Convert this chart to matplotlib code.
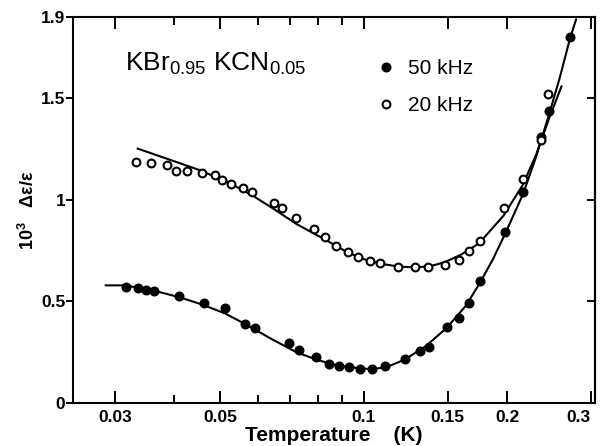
import matplotlib
matplotlib.use("Agg")
import matplotlib.pyplot as plt
from matplotlib.ticker import FixedLocator, NullFormatter

plt.rcParams['font.family'] = ['Liberation Sans', 'DejaVu Sans']
plt.rcParams['mathtext.fontset'] = 'custom'
plt.rcParams['mathtext.rm'] = 'Liberation Sans'

# 50 kHz data (filled circles)
t_50 = [0.0316, 0.0336, 0.0348, 0.0362, 0.0410, 0.0461, 0.0512, 0.0564, 0.0590,
        0.0695, 0.0730, 0.0792, 0.0844, 0.0885, 0.0930, 0.0980, 0.1041, 0.1110,
        0.1218, 0.1311, 0.1368, 0.1494, 0.1582, 0.1666, 0.1755, 0.1982, 0.2162,
        0.2358, 0.2455, 0.2718]
v_50 = [0.573, 0.564, 0.558, 0.553, 0.526, 0.490, 0.470, 0.391, 0.368,
        0.295, 0.259, 0.224, 0.191, 0.183, 0.175, 0.168, 0.167, 0.183,
        0.218, 0.257, 0.276, 0.375, 0.419, 0.490, 0.600, 0.840, 1.038,
        1.310, 1.436, 1.800]

# 20 kHz data (open circles)
t_20 = [0.0333, 0.0358, 0.0386, 0.0404, 0.0426, 0.0458, 0.0486, 0.0504, 0.0527,
        0.0558, 0.0582, 0.0647, 0.0674, 0.0721, 0.0785, 0.0830, 0.0876, 0.0925,
        0.0974, 0.1030, 0.1082, 0.1181, 0.1284, 0.1362, 0.1479, 0.1582, 0.1661,
        0.1751, 0.1966, 0.2155, 0.2355, 0.2438]
v_20 = [1.186, 1.181, 1.170, 1.140, 1.140, 1.134, 1.120, 1.096, 1.079,
        1.060, 1.038, 0.986, 0.962, 0.910, 0.856, 0.815, 0.775, 0.741,
        0.721, 0.699, 0.689, 0.668, 0.667, 0.667, 0.679, 0.704, 0.749,
        0.797, 0.959, 1.104, 1.294, 1.520]

# fitted curves
fit_t_50 = [0.0287, 0.0315, 0.0362, 0.0411, 0.0461, 0.0512, 0.0564, 0.0640,
            0.0722, 0.0792, 0.0860, 0.0930, 0.1040, 0.1120, 0.1218, 0.1350,
            0.1494, 0.1640, 0.1755, 0.1870, 0.1985, 0.2162, 0.2300, 0.2450,
            0.2580, 0.2716, 0.2793]
fit_v_50 = [0.579, 0.579, 0.553, 0.520, 0.482, 0.440, 0.388, 0.315,
            0.250, 0.215, 0.190, 0.176, 0.166, 0.178, 0.213, 0.280,
            0.370, 0.480, 0.592, 0.710, 0.837, 1.030, 1.210, 1.420,
            1.600, 1.800, 1.888]

fit_t_20 = [0.0335, 0.0404, 0.0452, 0.0520, 0.0584, 0.0647, 0.0722, 0.0831,
            0.0925, 0.1000, 0.1081, 0.1180, 0.1284, 0.1380, 0.1477, 0.1600,
            0.1745, 0.1966, 0.2155, 0.2300, 0.2450, 0.2602]
fit_v_20 = [1.252, 1.186, 1.146, 1.085, 1.021, 0.955, 0.881, 0.803,
            0.741, 0.708, 0.686, 0.672, 0.667, 0.674, 0.692, 0.730,
            0.785, 0.922, 1.071, 1.220, 1.400, 1.558]

x_major = [0.03, 0.05, 0.1, 0.15, 0.2, 0.3]
x_major_labels = ['0.03', '0.05', '0.1', '0.15', '0.2', '0.3']
x_minor = [0.04, 0.06, 0.07, 0.08, 0.09]
y_ticks = [0, 0.5, 1, 1.5, 1.9]
y_tick_labels = ['0', '0.5', '1', '1.5', '1.9']

fig = plt.figure(figsize=(6.01, 4.46), dpi=100)
ax = fig.add_axes([0.1215, 0.0964, 0.8685, 0.8656])

ax.plot(fit_t_50, fit_v_50, color='black', lw=1.5)
ax.plot(fit_t_20, fit_v_20, color='black', lw=1.5)
ax.plot(t_50, v_50, 'o', color='black', ms=6.2, label='50 kHz')
ax.plot(t_20, v_20, 'o', mfc='white', mec='black', mew=1.5, ms=5.6, label='20 kHz')

ax.set_xscale('log')
ax.set_xlim(0.0245, 0.306)
ax.set_ylim(0, 1.9)

ax.xaxis.set_major_locator(FixedLocator(x_major))
ax.set_xticklabels(x_major_labels)
ax.xaxis.set_minor_locator(FixedLocator(x_minor))
ax.xaxis.set_minor_formatter(NullFormatter())
ax.set_yticks(y_ticks)
ax.set_yticklabels(y_tick_labels)

ax.tick_params(axis='x', which='both', direction='in', top=True, width=1.4, pad=5,
               labelsize=12.5)
ax.tick_params(axis='x', which='major', length=8.5)
ax.tick_params(axis='x', which='minor', length=6)
ax.tick_params(axis='y', direction='out', length=5, width=1.4, pad=0.5, labelsize=12.5)
for lab in ax.get_xticklabels() + ax.get_yticklabels():
    lab.set_fontweight('bold')
ax.get_xticklabels()[-1].set_horizontalalignment('right')
ax.get_xticklabels()[-1].set_x(0.3)

sec = ax.secondary_yaxis('right')
sec.set_yticks([0.5, 1, 1.5])
sec.tick_params(direction='in', length=6, width=1.4, labelright=False)
sec.spines['right'].set_linewidth(1.5)

for s in ax.spines.values():
    s.set_linewidth(1.5)

ax.set_xlabel('Temperature    (K)', fontsize=15, fontweight='bold', labelpad=1)
ax.set_ylabel(r'$\mathregular{10^{3}}$   Δε/ε', fontsize=13, fontweight='bold', labelpad=2)

ax.text(0.1, 0.86, r'KBr$_{\mathregular{0.95}}$ KCN$_{\mathregular{0.05}}$',
        transform=ax.transAxes, fontsize=19, va='baseline')

ax.legend(loc='upper left', bbox_to_anchor=(0.58, 0.89), frameon=False, numpoints=1,
          handlelength=1.0, handletextpad=0.55, labelspacing=0.85, borderpad=0,
          borderaxespad=0, prop={'size': 15})

fig.savefig('out.png', dpi=100)
